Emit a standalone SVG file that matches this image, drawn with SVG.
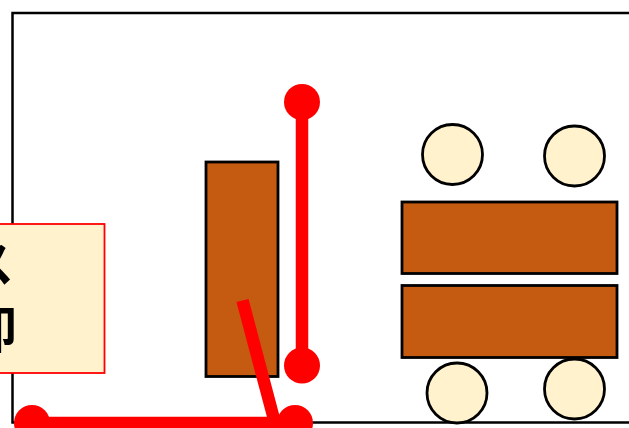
<svg xmlns="http://www.w3.org/2000/svg" width="629" height="428" viewBox="0 0 629 428">
<style>
.n{stroke:#000;stroke-width:2.800}
.b{fill:#c55a11}
.c{fill:#fff2cc}
.r{stroke:#f00;fill:none;stroke-width:12.500}
.d{fill:#f00}
.t{font-family:"Noto Sans CJK JP","Liberation Sans",sans-serif;font-size:50px;font-weight:700;fill:#000}
</style>
<rect width="629" height="428" fill="#fff"/>
<g id="frame"><rect x="12.500" y="13" width="630" height="409.500" fill="none" stroke="#000" stroke-width="2.500"/></g>
<g id="table-left"><rect class="n b" x="206" y="162" width="72" height="214.500"/></g>
<g id="table-right-top"><rect class="n b" x="402" y="202" width="215" height="71.500"/></g>
<g id="table-right-bottom"><rect class="n b" x="402" y="285.500" width="215" height="72"/></g>
<g id="seat-1"><circle class="n c" cx="452.500" cy="154.500" r="30"/></g>
<g id="seat-2"><circle class="n c" cx="574.500" cy="156" r="30"/></g>
<g id="seat-3"><circle class="n c" cx="457" cy="393" r="30"/></g>
<g id="seat-4"><circle class="n c" cx="574.500" cy="389" r="30"/></g>
<g id="label"><rect x="-60" y="224" width="164.500" height="149" fill="#fff2cc" stroke="#f00" stroke-width="1.800"/>
<text class="t" x="14" y="282" text-anchor="end">ス</text>
<text class="t" x="17" y="348" text-anchor="end">卸</text></g>
<g id="connectors">
<path class="r" d="M302 102V365"/>
<circle class="d" cx="302" cy="102" r="18"/>
<circle class="d" cx="302" cy="365.500" r="18"/>
<path class="r" d="M242.500 300.500L275 423"/>
<path class="r" d="M32 423H295"/>
<circle class="d" cx="32" cy="423" r="18"/>
<circle class="d" cx="295" cy="423" r="18"/>
</g>
</svg>
